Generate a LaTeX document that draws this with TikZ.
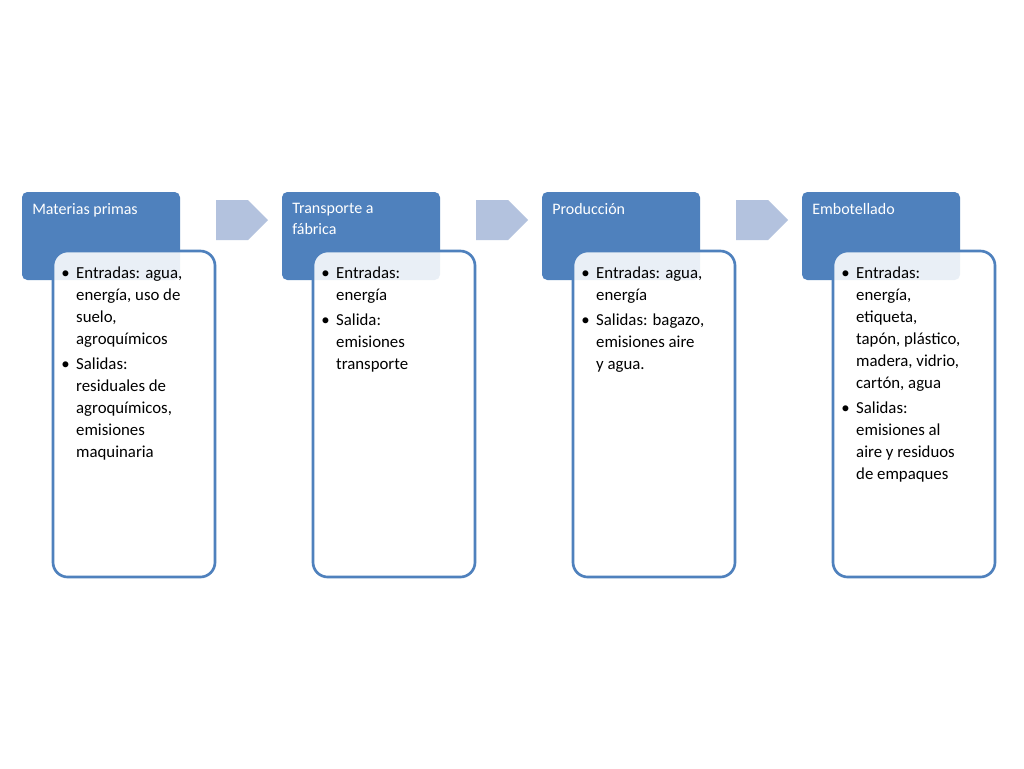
\documentclass[tikz,border=0pt]{standalone}
\usepackage{fontspec}
\setmainfont{Carlito}
\usetikzlibrary{shapes.arrows}
\definecolor{hdr}{HTML}{4F81BD}
\definecolor{arr}{HTML}{B3C2DE}
\tikzset{
 hdrbox/.style={fill=hdr,draw=none,rounded corners=4pt},
 bodybox/.style={draw=hdr,line width=2pt,fill=white,fill opacity=0.88,rounded corners=11pt},
 hdrtxt/.style={anchor=north west,text=white,font=\fontsize{12}{15.5}\selectfont,align=left,inner sep=0pt},
 bodytxt/.style={anchor=north west,font=\fontsize{12.6}{16.5}\selectfont,inner sep=0pt},
 blockarrow/.style={single arrow,fill=arr,draw=none,minimum height=39pt,minimum width=30pt,single arrow head extend=0pt,inner sep=0pt,shape border rotate=0}
}
\newcommand{\bl}[1]{\begin{tabular}{@{}p{11.2pt}@{}l@{}}#1\end{tabular}}
\begin{document}
\begin{tikzpicture}[x=0.75pt,y=-0.75pt]
\useasboundingbox (0,0) rectangle (1024,768);
\fill[white] (0,0) rectangle (1024,768);
\foreach \i/\x in {1/22,2/282,3/542,4/802}{
  \fill[hdrbox] (\x,192) rectangle (\x+158,280);
}
\foreach \i/\x in {1/53,2/313,3/573,4/833}{
  \draw[bodybox] (\x,251) rectangle (\x+162,577);
}
\node[hdrtxt] (h1) at (32,203) {Materias primas};
\node[hdrtxt] (h2) at (292,203) {Transporte a\\fábrica};
\node[hdrtxt] (h3) at (552,203) {Producción};
\node[hdrtxt] (h4) at (812,203) {Embotellado};
\node[blockarrow] (a1) at (232,220) {};
\node[blockarrow] (a2) at (492,220) {};
\node[blockarrow] (a3) at (752,220) {};
\node[bodytxt] (b1) at (61,263) {\bl{\textbullet & Entradas: agua,\\ & energía, uso de\\ & suelo,\\ & agroquímicos\\[2pt]
\textbullet & Salidas:\\ & residuales de\\ & agroquímicos,\\ & emisiones\\ & maquinaria}};
\node[bodytxt] (b2) at (321,263) {\bl{\textbullet & Entradas:\\ & energía\\[2pt]
\textbullet & Salida:\\ & emisiones\\ & transporte}};
\node[bodytxt] (b3) at (581,263) {\bl{\textbullet & Entradas: agua,\\ & energía\\[2pt]
\textbullet & Salidas: bagazo,\\ & emisiones aire\\ & y agua.}};
\node[bodytxt] (b4) at (841,263) {\bl{\textbullet & Entradas:\\ & energía,\\ & etiqueta,\\ & tapón, plástico,\\ & madera, vidrio,\\ & cartón, agua\\[2pt]
\textbullet & Salidas:\\ & emisiones al\\ & aire y residuos\\ & de empaques}};
\end{tikzpicture}
\end{document}
